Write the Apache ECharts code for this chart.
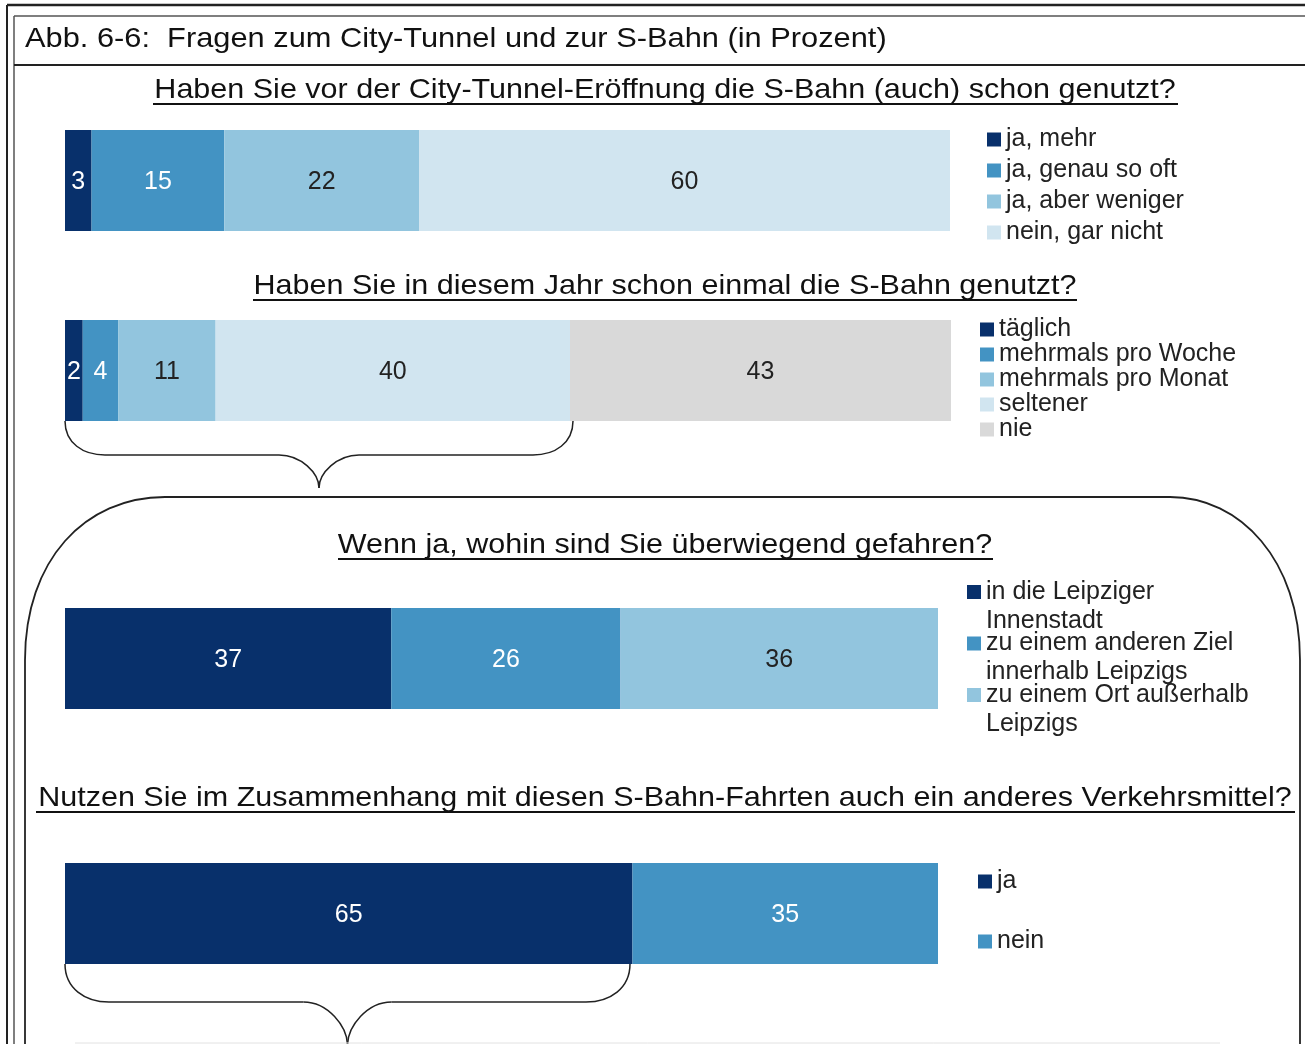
<!DOCTYPE html>
<html>
<head>
<meta charset="utf-8">
<script src="https://cdn.jsdelivr.net/npm/echarts@6/dist/echarts.min.js"></script>
<style>
  html, body { margin: 0; padding: 0; background: #fff; }
  #main { width: 1305px; height: 1044px; }
</style>
</head>
<body>
<div id="main"></div>
<script>
// Werte (in Prozent)
const q1Names = ['ja, mehr', 'ja, genau so oft', 'ja, aber weniger', 'nein, gar nicht'];
const q1Values = [3, 15, 22, 60];
const q2Names = ['täglich', 'mehrmals pro Woche', 'mehrmals pro Monat', 'seltener', 'nie'];
const q2Values = [2, 4, 11, 40, 43];
const q3Names = ['in die Leipziger\nInnenstadt', 'zu einem anderen Ziel\ninnerhalb Leipzigs', 'zu einem Ort außerhalb\nLeipzigs'];
const q3Values = [37, 26, 36];
const q4Names = ['ja', 'nein'];
const q4Values = [65, 35];

const FONT = '"Liberation Sans", Arial, sans-serif';
const DARK = '#08306b', MID = '#4393c3', LIGHT = '#92c5de', PALE = '#d1e5f0', GREY = '#d9d9d9';

const chart = echarts.init(document.getElementById('main'));

function _sum(arr) { return arr.reduce((a, b) => a + b, 0); }

const questions = [
    { names: q1Names, values: q1Values, colors: [DARK, MID, LIGHT, PALE], top: 130, width: 885 },
    { names: q2Names, values: q2Values, colors: [DARK, MID, LIGHT, PALE, GREY], top: 320, width: 886 },
    { names: q3Names, values: q3Values, colors: [DARK, MID, LIGHT], top: 608, width: 873 },
    { names: q4Names, values: q4Values, colors: [DARK, MID], top: 863, width: 873 }
];

const grid = [], xAxis = [], yAxis = [], series = [];
questions.forEach((q, i) => {
    grid.push({ left: 65, top: q.top, width: q.width, height: 101 });
    xAxis.push({ gridIndex: i, type: 'value', min: 0, max: _sum(q.values), show: false });
    yAxis.push({ gridIndex: i, type: 'category', data: ['q'], show: false });
    q.names.forEach((name, k) => {
        const c = q.colors[k];
        series.push({
            name,
            type: 'bar',
            stack: 'q' + i,
            xAxisIndex: i,
            yAxisIndex: i,
            barWidth: '100%',
            data: [q.values[k]],
            itemStyle: { color: c },
            label: {
                show: true,
                position: 'inside',
                offset: [0, 2],
                fontSize: 25,
                fontFamily: FONT,
                color: (c === DARK || c === MID) ? '#fff' : '#222'
            },
            emphasis: { disabled: true }
        });
    });
});

const legendBase = {
    orient: 'vertical',
    icon: 'rect',
    itemWidth: 14,
    itemHeight: 14,
    padding: 0,
    selectedMode: false,
    textStyle: { fontSize: 25, color: '#222', fontFamily: FONT, lineHeight: 25 }
};

const legend = [
    { ...legendBase, data: q1Names, left: 987, top: 127, itemGap: 6 },
    { ...legendBase, data: q2Names, left: 980, top: 317, itemGap: 0 },
    {
        // leere erste Zeile, damit das Symbol auf Höhe der ersten Textzeile steht
        ...legendBase, data: q3Names, left: 967, top: 548.5, itemGap: -35.5,
        formatter: n => '\n' + n,
        textStyle: { ...legendBase.textStyle, lineHeight: 29 }
    },
    { ...legendBase, data: q4Names, left: 978, top: 869, itemGap: 35 }
];

// Rahmen, Titel, Klammern
const line = (x1, y1, x2, y2, w, col) => ({
    type: 'line', silent: true,
    shape: { x1, y1, x2, y2 },
    style: { stroke: col || '#222', lineWidth: w || 2 }
});
const curve = (x1, y1, cpx1, cpy1, cpx2, cpy2, x2, y2, w) => ({
    type: 'bezierCurve', silent: true,
    shape: { x1, y1, cpx1, cpy1, cpx2, cpy2, x2, y2 },
    style: { fill: null, stroke: '#222', lineWidth: w || 1.5 }
});
const title = (text, y, x1, x2) => ([
    {
        type: 'text', x: 665, y, scaleX: 1.09, silent: true,
        style: { text, x: 0, y: 0, fontSize: 28, fontFamily: FONT, fill: '#111', align: 'center', verticalAlign: 'middle' }
    },
    line(x1, y + 14, x2, y + 14, 2, '#111')
]);
const brace = (x1, x2, yTop, yMid, tip, r) => {
    const xm = (x1 + x2) / 2;
    const k = 0.55 * r;
    return [
        curve(x1, yTop, x1, yTop + k, x1 + r - k, yMid, x1 + r, yMid),
        line(x1 + r, yMid, xm - r, yMid, 1.5),
        curve(xm - r, yMid, xm - r + k, yMid, xm, tip - (tip - yMid) * 0.45, xm, tip),
        curve(xm, tip, xm, tip - (tip - yMid) * 0.45, xm + r - k, yMid, xm + r, yMid),
        line(xm + r, yMid, x2 - r, yMid, 1.5),
        curve(x2 - r, yMid, x2 - r + k, yMid, x2, yTop + k, x2, yTop)
    ];
};

const graphic = [
    line(7, 5, 1305, 5, 2.5),
    line(7, 5, 7, 1044, 2),
    line(14, 16, 1305, 16, 1.5, '#555'),
    line(14, 16, 14, 1044, 1.5, '#555'),
    line(14, 65, 1305, 65, 2),
    {
        type: 'text', x: 25, y: 39, scaleX: 1.1, silent: true,
        style: { text: 'Abb. 6-6:  Fragen zum City-Tunnel und zur S-Bahn (in Prozent)', x: 0, y: 0, fontSize: 28, fontFamily: FONT, fill: '#111', verticalAlign: 'middle' }
    },
    ...title('Haben Sie vor der City-Tunnel-Eröffnung die S-Bahn (auch) schon genutzt?', 90, 153, 1178),
    ...title('Haben Sie in diesem Jahr schon einmal die S-Bahn genutzt?', 286, 253, 1077),
    ...title('Wenn ja, wohin sind Sie überwiegend gefahren?', 545, 338, 993),
    ...title('Nutzen Sie im Zusammenhang mit diesen S-Bahn-Fahrten auch ein anderes Verkehrsmittel?', 798, 36, 1295),
    ...brace(65, 573, 421, 455, 488, 40),
    ...brace(65, 630, 964, 1002, 1046, 44),
    // große abgerundete Umrandung
    line(25, 1044, 25, 660, 1.8),
    curve(25, 660, 25, 560, 85, 497, 165, 497, 1.8),
    line(165, 497, 1170, 497, 1.8),
    curve(1170, 497, 1240, 497, 1300, 560, 1300, 660, 1.8),
    line(1300, 660, 1300, 1044, 1.8),
    line(75, 1043, 1220, 1043, 1, '#e2e2e2')
];

chart.setOption({
    animation: false,
    grid,
    xAxis,
    yAxis,
    legend,
    series,
    graphic
});
</script>
</body>
</html>
